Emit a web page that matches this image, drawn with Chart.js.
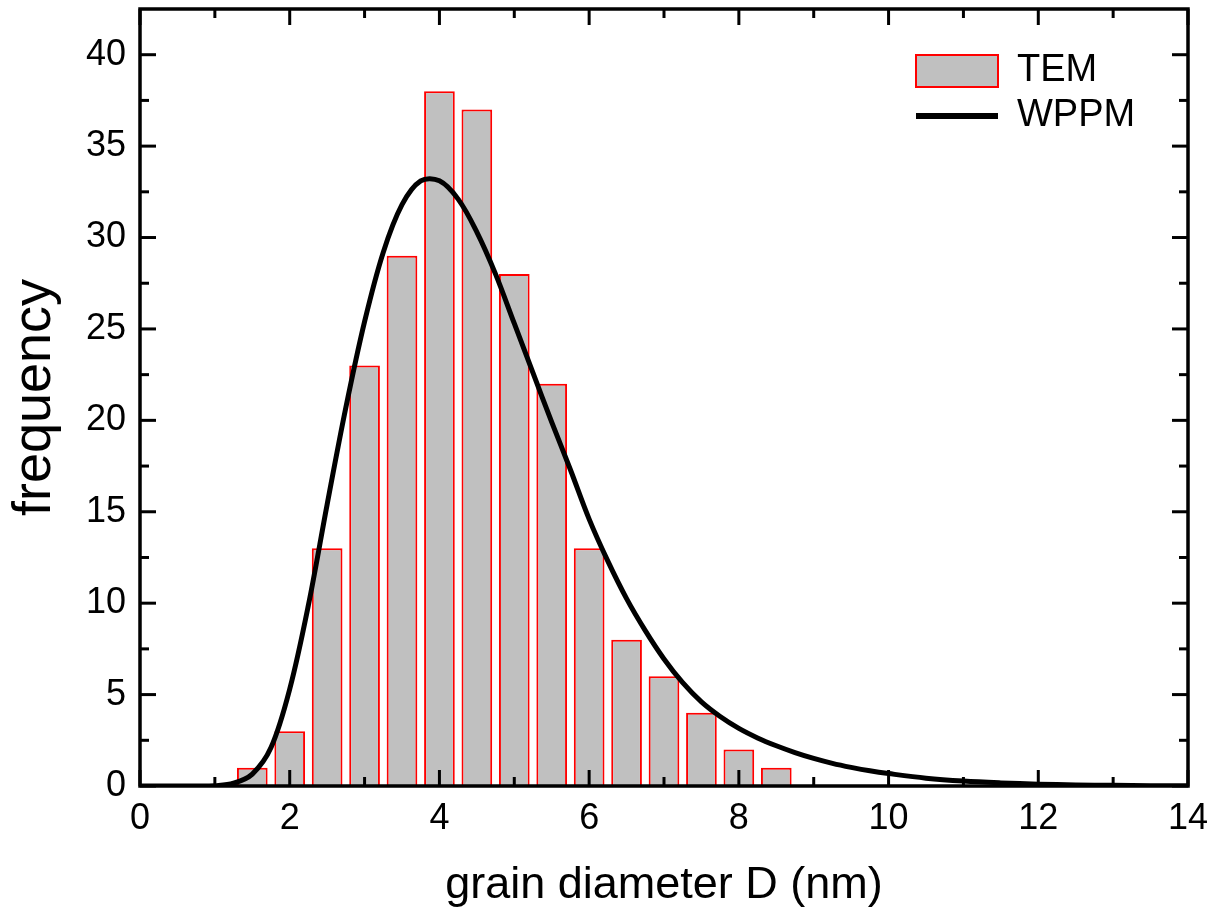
<!DOCTYPE html>
<html>
<head>
<meta charset="utf-8">
<script src="https://cdn.jsdelivr.net/npm/chart.js@4.4.0/dist/chart.umd.min.js"></script>
<style>
html,body{margin:0;padding:0;background:#fff;}
#wrap{width:1216px;height:913px;position:relative;}
</style>
</head>
<body>
<div id="wrap"><canvas id="c"></canvas></div>
<script>
// ---- data ----
const binCenters = [1.5, 2.0, 2.5, 3.0, 3.5, 4.0, 4.5, 5.0, 5.5, 6.0, 6.5, 7.0, 7.5, 8.0, 8.5];
const temCounts  = [1, 3, 13, 23, 29, 38, 37, 28, 22, 13, 8, 6, 4, 2, 1];

const curveD = [0, 0.5, 0.75, 1.0, 1.25, 1.5, 1.75, 2.0, 2.25, 2.5, 2.75, 3.0, 3.25, 3.5, 3.75, 4.0, 4.25, 4.5, 4.75, 5.0, 5.25, 5.5, 5.75, 6.0, 6.25, 6.5, 6.75, 7.0, 7.25, 7.5, 7.75, 8.0, 8.25, 8.5, 8.75, 9.0, 9.25, 9.5, 9.75, 10.0, 10.5, 11.0, 11.5, 12.0, 12.5, 13.0, 13.5, 14.0];
const curveF = [0, 0, 0.003, 0.02, 0.15, 0.65, 2.1, 5.3, 9.9, 15.4, 20.7, 25.4, 29.2, 31.8, 33.1, 33.1, 32.1, 30.3, 28.0, 25.3, 22.6, 19.9, 17.3, 14.6, 12.3, 10.25, 8.5, 6.95, 5.65, 4.6, 3.8, 3.15, 2.63, 2.2, 1.83, 1.51, 1.24, 1.02, 0.83, 0.68, 0.43, 0.27, 0.17, 0.1, 0.06, 0.035, 0.02, 0.012];

const xMajorTicks = [0, 2, 4, 6, 8, 10, 12, 14];
const xMinorTicks = [1, 3, 5, 7, 9, 11, 13];
const yMajorTicks = [0, 5, 10, 15, 20, 25, 30, 35, 40];
const yMinorTicks = [2.5, 7.5, 12.5, 17.5, 22.5, 27.5, 32.5, 37.5];

const seriesLabels = ['TEM', 'WPPM'];
const xTitle = 'grain diameter D (nm)';
const yTitle = 'frequency';

// ---- chart ----
const FONT = "'Liberation Sans', Arial, Helvetica, sans-serif";
Chart.defaults.font.family = FONT;
Chart.defaults.color = '#000';

const frameTicks = {
  id: 'frameTicks',
  afterDatasetsDraw(chart) {
    const {ctx, chartArea: a, scales: {x, y}} = chart;
    const MAJ = 16, MIN = 9;
    ctx.save();
    ctx.strokeStyle = '#000';
    ctx.lineWidth = 3;
    ctx.lineCap = 'butt';
    const seg = (x1, y1, x2, y2) => { ctx.beginPath(); ctx.moveTo(x1, y1); ctx.lineTo(x2, y2); ctx.stroke(); };
    xMajorTicks.forEach(v => { const p = x.getPixelForValue(v); seg(p, a.bottom, p, a.bottom - MAJ); seg(p, a.top, p, a.top + MAJ); });
    xMinorTicks.forEach(v => { const p = x.getPixelForValue(v); seg(p, a.bottom, p, a.bottom - MIN); seg(p, a.top, p, a.top + MIN); });
    yMajorTicks.forEach(v => { const p = y.getPixelForValue(v); seg(a.left, p, a.left + MAJ, p); seg(a.right, p, a.right - MAJ, p); });
    yMinorTicks.forEach(v => { const p = y.getPixelForValue(v); seg(a.left, p, a.left + MIN, p); seg(a.right, p, a.right - MIN, p); });
    ctx.lineWidth = 3.5;
    ctx.strokeRect(a.left, a.top, a.right - a.left, a.bottom - a.top);
    ctx.restore();
  }
};

const legendPlace = {
  id: 'legendPlace',
  afterLayout(chart) {
    const lg = chart.legend;
    if (!lg) return;
    const a = chart.chartArea;
    lg.left = a.right - 279;
    lg.top = a.top + 36;
  }
};

new Chart(document.getElementById('c'), {
  data: {
    datasets: [
      {
        type: 'bar',
        label: seriesLabels[0],
        data: binCenters.map((d, i) => ({x: d, y: temCounts[i]})),
        backgroundColor: '#c0c0c0',
        borderColor: '#ff0000',
        borderWidth: 2,
        barPercentage: 0.82,
        categoryPercentage: 1.0,
        order: 2
      },
      {
        type: 'line',
        label: seriesLabels[1],
        data: curveD.map((d, i) => ({x: d, y: curveF[i]})),
        borderColor: '#000',
        backgroundColor: '#000',
        borderWidth: 5,
        pointRadius: 0,
        tension: 0.35,
        fill: false,
        order: 1
      }
    ]
  },
  options: {
    responsive: true,
    maintainAspectRatio: false,
    animation: false,
    layout: { padding: { left: 0, right: 28, top: 9, bottom: 0 } },
    plugins: {
      tooltip: { enabled: false },
      legend: {
        position: 'chartArea',
        align: 'start',
        labels: {
          usePointStyle: true,
          pointStyleWidth: 82,
          boxHeight: 32,
          padding: 7,
          color: '#000',
          font: { size: 38, family: FONT },
          generateLabels(chart) {
            return chart.data.datasets.map((ds, i) => ({
              text: ds.label,
              fillStyle: ds.backgroundColor,
              strokeStyle: ds.borderColor,
              lineWidth: ds.type === 'line' ? 6 : 2,
              pointStyle: ds.type === 'line' ? 'line' : 'rect',
              hidden: false,
              datasetIndex: i,
              fontColor: '#000'
            }));
          }
        }
      }
    },
    scales: {
      x: {
        type: 'linear',
        min: 0,
        max: 14,
        offset: false,
        grid: { display: false, drawTicks: false },
        border: { display: false },
        afterBuildTicks(scale) { scale.ticks = xMajorTicks.map(v => ({value: v})); },
        afterFit(scale) { scale.height = 127; scale.paddingLeft = 0; scale.paddingRight = 0; },
        ticks: { padding: 11, font: { size: 36 }, color: '#000', maxRotation: 0, autoSkip: false,
                 callback: v => String(v) },
        title: { display: true, text: xTitle, font: { size: 45 }, color: '#000', padding: { top: 0, bottom: 0 } }
      },
      y: {
        type: 'linear',
        min: 0,
        max: 42.5,
        grid: { display: false, drawTicks: false },
        border: { display: false },
        afterBuildTicks(scale) { scale.ticks = yMajorTicks.map(v => ({value: v})); },
        afterFit(scale) { scale.width = 140; scale.paddingTop = 0; scale.paddingBottom = 0; },
        ticks: { padding: 14, font: { size: 36 }, color: '#000', autoSkip: false,
                 callback: v => String(v) },
        title: { display: true, text: yTitle, font: { size: 54 }, color: '#000', padding: { top: 3, bottom: 0 } }
      }
    }
  },
  plugins: [frameTicks, legendPlace]
});
</script>
</body>
</html>
